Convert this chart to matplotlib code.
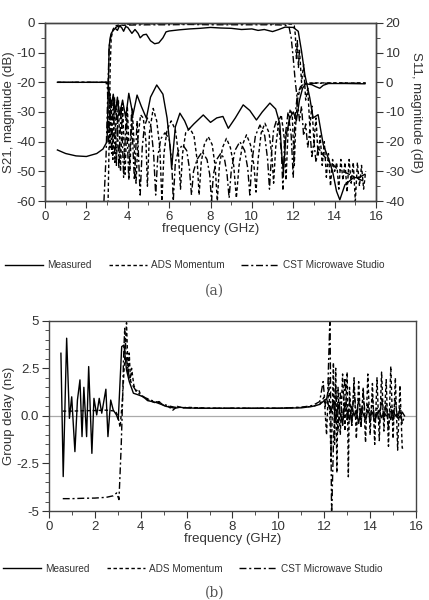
import matplotlib
matplotlib.use("Agg")
import matplotlib.pyplot as plt
from matplotlib.lines import Line2D

plt.rcParams['font.family'] = ['Liberation Sans', 'DejaVu Sans']
plt.rcParams['axes.unicode_minus'] = False

# ---- panel (a): S21 (left axis) and S11 (right axis), dB ----
meas_s21_f = [0.6, 1.0, 1.5, 2.0, 2.5, 2.8, 3.0, 3.05, 3.1, 3.15, 3.2, 3.3, 3.4, 3.5, 3.6, 3.7, 3.8,
              3.9, 4.0, 4.2, 4.35, 4.5, 4.6, 4.75, 4.9, 5.1, 5.3, 5.5, 5.7, 5.85, 6.0, 6.5, 7.0, 7.5,
              8.0, 8.5, 9.0, 9.5, 10.0, 10.3, 10.6, 11.0, 11.3, 11.6, 12.0, 12.24, 12.4, 12.56, 12.8,
              12.96, 13.2, 13.45, 13.69, 13.9, 14.09, 14.25, 14.5, 14.9, 15.2, 15.46]
meas_s21_db = [-42.8, -44, -44.8, -45, -44, -42.5, -40, -25, -8, -5, -3.5, -2.5, -1.8, -2.5, -1, -1.5,
               -2.8, -1.2, -1.5, -3.5, -2.2, -3.5, -5, -4, -3.8, -6, -7, -6.7, -5, -3, -2.7, -2.3, -2,
               -1.8, -1.5, -1.7, -1.8, -2.2, -2, -2.5, -2.2, -2.9, -2.2, -1.4, -1.5, -2.8, -9.5, -17.4,
               -25.3, -32, -30.9, -41, -45.5, -50, -56.7, -59.6, -54.5, -52.2, -52, -51]

ads_s21_f = [3.0, 3.05, 3.1, 3.15, 3.2, 3.3, 3.4, 3.6, 3.8, 4.0, 4.5, 5.0, 6.0, 7.0, 8.0, 9.0, 10.0,
             11.0, 11.5, 11.9, 12.05, 12.1, 12.15, 12.2, 12.25, 12.3, 12.4, 12.5, 12.6, 12.7, 12.8,
             12.9, 13.0, 13.1, 13.2, 13.3, 13.4, 13.5, 13.6, 13.7, 13.8, 13.9, 14.0, 14.1, 14.2, 14.3,
             14.4, 14.5, 14.6, 14.7, 14.8, 14.9, 15.0, 15.1, 15.2, 15.3, 15.4, 15.5]
ads_s21_db = [-65, -60, -40, -15, -5, -2, -1, -0.6, -0.8, -0.4, -0.3, -0.3, -0.2, -0.3, -0.2, -0.3,
              -0.2, -0.3, -0.3, -0.4, -1, -4, -12, -6, -15, -9, -20, -14, -26, -22, -35, -28, -40,
              -32, -45, -38, -48, -40, -52, -44, -55, -46, -50, -47, -56, -46, -53, -47, -57, -46,
              -54, -47, -60, -47, -55, -48, -56, -50]

cst_s21_f = [2.8, 2.85, 2.95, 3.05, 3.1, 3.2, 3.3, 3.5, 3.7, 4.0, 5.0, 6.0, 7.0, 8.0, 9.0, 10.0, 11.0,
             11.6, 11.8, 11.9, 12.0, 12.1, 12.2, 12.3, 12.4, 12.5, 12.6, 12.7, 12.8, 12.9, 13.0, 13.1,
             13.2, 13.3, 13.5, 13.8, 14.1, 14.4, 14.7, 15.0, 15.3, 15.5]
cst_s21_db = [-65, -60, -45, -20, -8, -4, -2, -1.2, -0.8, -0.7, -0.6, -0.6, -0.5, -0.6, -0.6, -0.6,
              -0.6, -0.7, -1.5, -5, -12, -20, -26, -33, -28, -38, -34, -42, -36, -45, -40, -47, -42,
              -43, -45, -47, -49, -50, -51, -52, -53, -53.5]

meas_s11_f = [0.6, 3.0, 3.05, 3.1, 3.2, 3.3, 3.4, 3.5, 3.6, 3.75, 3.9, 4.05, 4.25, 4.45, 4.65, 4.9,
              5.1, 5.4, 5.7, 5.9, 6.05, 6.12, 6.3, 6.52, 6.75, 6.93, 7.2, 7.65, 8.0, 8.3, 8.6, 8.86,
              9.2, 9.58, 9.9, 10.22, 10.5, 10.87, 11.15, 11.35, 11.45, 11.52, 11.65, 11.84, 12.0,
              12.15, 12.3, 12.45, 12.6, 12.9, 13.1, 13.28, 13.45, 13.7, 14.5, 15.46]
meas_s11_db = [0, 0, -0.5, -3, -8, -4, -10, -5, -11, -6, -12, -3.7, -11, -4.3, -8, -12.1, -5, -0.9,
               -4, -12, -22, -29, -15, -10.4, -13, -16, -14, -11, -13.5, -12, -11.5, -15.5, -12,
               -7.6, -9.5, -12.7, -10, -7, -9, -14, -25, -30, -18, -12, -10, -13, -6, -2, -0.5,
               -0.8, -1.5, -2, -1, -0.4, -0.4, -0.5]

ads_s11_f = [0.6, 3.0, 3.08, 3.14, 3.2, 3.28, 3.36, 3.45, 3.55, 3.65, 3.75, 3.87, 3.98, 4.1, 4.22,
             4.4, 4.5, 4.62, 4.75, 4.88, 4.95, 5.05, 5.23, 5.4, 5.55, 5.65, 5.75, 5.9, 6.1, 6.3,
             6.45, 6.55, 6.65, 6.8, 7.0, 7.2, 7.35, 7.45, 7.55, 7.7, 7.89, 8.08, 8.22, 8.33, 8.43,
             8.58, 8.77, 8.96, 9.12, 9.25, 9.38, 9.55, 9.74, 9.93, 10.1, 10.2, 10.3, 10.45, 10.63,
             10.83, 10.97, 11.05, 11.15, 11.3, 11.42, 11.55, 11.65, 11.75, 11.85, 11.95, 12.05,
             12.12, 12.2, 12.3, 12.45, 12.6, 13.0, 15.5]
ads_s11_db = [0, 0, -2, -22, -6, -26, -5, -28, -6, -30, -7, -31, -8, -30, -9, -34, -18, -11, -12,
              -20, -35, -17, -8.8, -13, -22, -40, -24, -16, -13, -16, -24, -36, -24, -17, -15.5,
              -18, -26, -38, -27, -21, -18.3, -21, -28, -40, -28, -22, -18.9, -22, -28, -39, -28,
              -21, -17.7, -21, -28, -37, -26, -17, -13.8, -17, -25, -34, -22, -13, -11, -18, -33,
              -16, -9, -11, -28, -14, -6, -3, -1, -0.3, -0.2, -0.2]

cst_s11_f = [0.6, 2.95, 3.02, 3.08, 3.15, 3.22, 3.3, 3.38, 3.47, 3.57, 3.68, 3.8, 3.93, 4.05, 4.18,
             4.32, 4.45, 4.6, 4.7, 4.8, 4.95, 5.12, 5.25, 5.35, 5.45, 5.6, 5.8, 6.0, 6.12, 6.2, 6.3,
             6.45, 6.65, 6.85, 6.98, 7.08, 7.18, 7.35, 7.6, 7.83, 7.96, 8.05, 8.14, 8.3, 8.5, 8.68,
             8.8, 8.9, 9.0, 9.18, 9.42, 9.65, 9.8, 9.9, 10.0, 10.17, 10.39, 10.62, 10.76, 10.85,
             10.95, 11.05, 11.18, 11.32, 11.43, 11.5, 11.58, 11.75, 11.9, 12.0, 12.08, 12.2, 12.35,
             12.5, 13.0, 15.5]
cst_s11_db = [0, 0, -2, -20, -4, -24, -5, -27, -7, -29, -8, -32, -10, -33, -11, -33, -13, -38, -22,
              -15, -12, -15, -24, -38, -25, -19, -17, -19, -26, -40, -27, -23, -21, -23, -29, -38,
              -30, -26, -23.4, -26, -31, -40, -31, -26, -23.9, -26, -31, -39, -30, -23, -20, -23,
              -29, -38, -27, -18, -14.4, -18, -26, -36, -24, -16, -13, -16, -24, -36, -20, -10, -18,
              -32, -12, -4, -1.5, -0.5, -0.3, -0.3]

# ---- panel (b): group delay, ns ----
meas_gd_f = [0.52, 0.62, 0.77, 0.89, 0.99, 1.13, 1.24, 1.35, 1.44, 1.52, 1.64, 1.73, 1.87, 1.96,
             2.08, 2.19, 2.3, 2.48, 2.57, 2.69, 2.8, 2.94, 3.02, 3.17, 3.27, 3.38, 3.5, 3.68, 3.9,
             4.11, 4.3, 4.5, 4.68, 4.9, 5.1, 5.3, 5.5, 5.7, 6.0, 6.5, 7.0, 8.0, 9.0, 10.0, 11.0,
             11.5, 11.8, 12.0, 12.1, 12.2, 12.3, 12.4, 12.5, 12.6, 12.7, 12.8, 12.9, 13.0, 13.1,
             13.2, 13.3, 13.4, 13.5, 13.6, 13.7, 13.8, 13.9, 14.0, 14.1, 14.2, 14.3, 14.4, 14.5,
             14.6, 14.7, 14.8, 14.9, 15.0, 15.1, 15.2, 15.3, 15.4, 15.5]
meas_gd_ns = [3.29, -3.19, 4.08, -0.13, 1.0, -1.88, 0.83, 1.89, -1.09, 1.5, -1.09, 2.59, -1.97, 0.92,
              0.05, 0.92, 0.14, 1.4, -1.09, 0.83, 0.31, 0.05, -0.2, 3.64, 3.72, 2.41, 1.8, 1.19, 1.1,
              1.0, 0.8, 0.75, 0.7, 0.6, 0.5, 0.45, 0.4, 0.45, 0.42, 0.4, 0.4, 0.4, 0.4, 0.4, 0.42,
              0.5, 0.6, 0.8, 0.9, 0.5, 0.2, 0.8, -0.3, 0.6, 0.1, -0.4, 0.7, 0.2, -0.2, 0.5, 0.0, 0.3,
              -0.4, 0.4, 0.1, -0.2, 0.3, 0.0, 0.2, -0.3, 0.1, 0.3, -0.1, 0.2, 0.0, 0.1, -0.2, 0.3,
              0.0, 0.1, -0.1, 0.2, 0.0]

ads_gd_f = [0.6, 1.0, 1.5, 2.0, 2.5, 2.9, 3.0, 3.1, 3.2, 3.3, 3.38, 3.45, 3.5, 3.55, 3.6, 3.7, 3.8,
            3.9, 4.0, 4.2, 4.4, 4.6, 4.8, 5.0, 5.2, 5.4, 5.6, 5.8, 6.0, 7.0, 8.0, 9.0, 10.0, 11.0,
            11.5, 11.8, 12.0, 12.1, 12.2, 12.3, 12.4, 12.45, 12.5, 12.55, 12.6, 12.7, 12.8, 12.9,
            13.0, 13.05, 13.1, 13.2, 13.3, 13.4, 13.5, 13.6, 13.7, 13.8, 13.9, 14.0, 14.1, 14.2,
            14.3, 14.4, 14.5, 14.6, 14.7, 14.8, 14.9, 15.0, 15.1, 15.2, 15.3, 15.4, 15.5]
ads_gd_ns = [0.25, 0.25, 0.27, 0.28, 0.3, 0.25, 0.0, -0.6, 0.8, 3.0, 4.9, 2.2, 3.3, 1.8, 2.5, 1.6,
             1.3, 1.4, 1.1, 0.9, 0.8, 0.7, 0.75, 0.55, 0.5, 0.3, 0.5, 0.4, 0.45, 0.4, 0.4, 0.4, 0.4,
             0.45, 0.5, 0.6, 1.0, -1.0, 2.0, -2.5, 2.8, -1.5, 2.5, -3.0, 1.5, -1.0, 2.2, -0.8, 2.3,
             -3.2, 1.5, -0.5, 2.0, -1.2, 1.8, -0.6, 1.5, -1.4, 2.2, -1.0, 1.7, -1.5, 2.0, -1.3, 2.3,
             -0.8, 1.9, -1.6, 2.6, -1.2, 2.0, -1.8, 1.6, -1.7, -1.6]

cst_gd_f = [0.6, 1.0, 1.5, 2.0, 2.5, 2.8, 2.95, 3.05, 3.1, 3.15, 3.2, 3.25, 3.3, 3.35, 3.4, 3.5,
            3.6, 3.7, 3.8, 4.0, 4.2, 4.5, 4.8, 5.0, 5.3, 5.5, 5.8, 6.0, 7.0, 8.0, 9.0, 10.0, 11.0,
            11.5, 11.8, 11.95, 12.05, 12.15, 12.25, 12.32, 12.4, 12.5, 12.6, 12.7, 12.8, 12.9,
            13.0, 13.1, 13.2, 13.3, 13.4, 13.5, 13.6, 13.7, 13.8, 13.9, 14.0, 14.1, 14.2, 14.3,
            14.4, 14.5, 14.6, 14.7, 14.8, 14.9, 15.0, 15.1, 15.2, 15.3, 15.4, 15.5]
cst_gd_ns = [-4.35, -4.35, -4.33, -4.32, -4.28, -4.2, -4.05, -4.4, -3.0, -1.5, 0.5, 3.0, 4.6, 3.5,
             2.8, 2.0, 1.7, 1.5, 1.3, 1.1, 0.95, 0.8, 0.7, 0.6, 0.5, 0.45, 0.45, 0.42, 0.4, 0.4,
             0.4, 0.4, 0.45, 0.55, 0.75, 1.8, 0.5, 1.2, 5.3, -5.3, -1.5, 1.5, -0.8, 1.2, -0.5, 2.0,
             -0.3, 0.8, -0.5, 1.5, -0.2, 0.9, -0.6, 1.2, -0.2, 0.6, -0.4, 0.9, -0.3, 0.4, -0.5,
             1.0, -0.2, 0.7, -0.6, 0.5, -0.3, 0.8, -0.2, 0.4, -0.4, 0.0]

x_ticks = [0, 2, 4, 6, 8, 10, 12, 14, 16]
s21_ticks = [0, -10, -20, -30, -40, -50, -60]
s11_ticks = [20, 10, 0, -10, -20, -30, -40]
gd_ticks = [5, 2.5, 0, -2.5, -5]
gd_labels = ["5", "2.5", "0.0", "-2.5", "-5"]

txt = '#333333'
solid = dict(color='black', lw=1.0, linestyle='-')
dashed = dict(color='black', lw=1.0, linestyle=(0, (2.5, 1.8)))
dashdot = dict(color='black', lw=1.0, linestyle=(0, (5, 2, 1.5, 2)))


def style_axis(ax):
    ax.tick_params(which='both', direction='out', colors=txt, labelsize=9.5, pad=2)
    ax.tick_params(which='major', length=5)
    ax.tick_params(which='minor', length=3)
    for sp in ax.spines.values():
        sp.set_color('#444444')
        sp.set_linewidth(1.0)


fig = plt.figure(figsize=(4.29, 6.0), dpi=100)

# (a)
ax = fig.add_axes([0.1049, 0.665, 0.7716, 0.2967])
ax.plot(meas_s21_f, meas_s21_db, **solid)
ax.plot(ads_s21_f, ads_s21_db, **dashed)
ax.plot(cst_s21_f, cst_s21_db, **dashdot)
ax.set_xlim(0, 16)
ax.set_ylim(-60, 0)
ax.set_xticks(x_ticks)
ax.set_xticks(range(1, 16, 2), minor=True)
ax.set_yticks(s21_ticks)
ax.set_yticks(range(-55, 0, 10), minor=True)
ax.set_xlabel("frequency (GHz)", fontsize=9.5, color=txt, labelpad=0)
ax.set_ylabel("S21, magnitude (dB)", fontsize=9.5, color=txt, labelpad=1)
style_axis(ax)

ax2 = ax.twinx()
ax2.plot(meas_s11_f, meas_s11_db, **solid)
ax2.plot(ads_s11_f, ads_s11_db, **dashed)
ax2.plot(cst_s11_f, cst_s11_db, **dashdot)
ax2.set_ylim(-40, 20)
ax2.set_yticks(s11_ticks)
ax2.set_yticks(range(-35, 20, 10), minor=True)
ax2.set_ylabel("S11, magnitude (dB)", fontsize=9.5, color=txt, rotation=-90, labelpad=12)
style_axis(ax2)

handles = [Line2D([], [], **solid), Line2D([], [], **dashed), Line2D([], [], **dashdot)]
names = ["Measured", "ADS Momentum", "CST Microwave Studio"]
fig.legend(handles, names, loc='center', bbox_to_anchor=(0.455, 0.558), ncol=3, frameon=False,
           fontsize=7.2, handlelength=3.8, handletextpad=0.4, columnspacing=1.7,
           labelcolor=txt)
fig.text(0.5, 0.516, "(a)", ha='center', va='center', fontsize=10, color='#555555',
         family='DejaVu Serif')

# (b)
bx = fig.add_axes([0.1142, 0.1483, 0.8555, 0.3172])
bx.axhline(0, color='#aaaaaa', lw=0.9, zorder=0)
bx.plot(meas_gd_f, meas_gd_ns, **solid)
bx.plot(ads_gd_f, ads_gd_ns, **dashed)
bx.plot(cst_gd_f, cst_gd_ns, **dashdot)
bx.set_xlim(0, 16)
bx.set_ylim(-5, 5)
bx.set_xticks(x_ticks)
bx.set_xticks(range(1, 16, 2), minor=True)
bx.set_yticks(gd_ticks)
bx.set_yticklabels(gd_labels)
bx.set_yticks([-4.5, -4, -3.5, -3, -2, -1.5, -1, -0.5, 0.5, 1, 1.5, 2, 3, 3.5, 4, 4.5], minor=True)
bx.set_xlabel("frequency (GHz)", fontsize=9.5, color=txt, labelpad=0)
bx.set_ylabel("Group delay (ns)", fontsize=9.5, color=txt, labelpad=1)
style_axis(bx)

fig.legend(handles, names, loc='center', bbox_to_anchor=(0.45, 0.052), ncol=3, frameon=False,
           fontsize=7.2, handlelength=3.8, handletextpad=0.4, columnspacing=1.7,
           labelcolor=txt)
fig.text(0.5, 0.012, "(b)", ha='center', va='center', fontsize=10, color='#555555',
         family='DejaVu Serif')

fig.savefig("out.png", dpi=100)
